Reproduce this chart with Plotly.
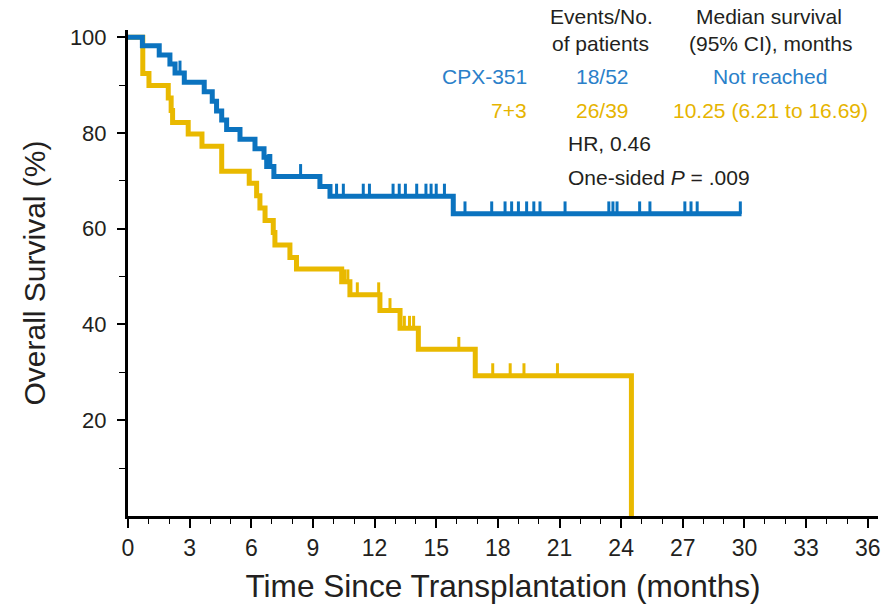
import plotly.graph_objects as go

# Kaplan-Meier step data: time of each step (months) and survival level after it (%)
cpx_times = [0, 0.70, 1.52, 2.04, 2.29, 2.74, 3.71, 4.10, 4.31, 4.56, 4.80, 5.45,
             6.18, 6.62, 6.75, 7.10, 9.34, 9.83, 15.83, 29.86]
cpx_surv = [100, 98.2, 96.3, 94.4, 92.5, 90.6, 88.6, 86.6, 84.6, 82.7, 80.7, 78.7,
            76.7, 74.9, 73.0, 70.9, 68.8, 66.8, 63.1, 63.1]
cpx_censor = [2.53, 6.85, 6.95, 8.40, 10.15, 10.48, 11.45, 11.75, 12.90, 13.20, 13.50,
              14.05, 14.50, 14.75, 15.00, 15.40, 16.40, 17.70, 18.35, 18.67, 19.00,
              19.40, 19.75, 20.05, 21.27, 23.40, 23.60, 23.80, 24.90, 25.40, 27.10,
              27.40, 27.70, 29.80]

std_times = [0, 0.72, 1.02, 1.96, 2.10, 2.17, 2.93, 3.60, 4.56, 5.90, 6.26, 6.42,
             6.67, 7.07, 7.15, 7.88, 8.20, 10.40, 10.80, 12.26, 13.24, 14.13, 16.90, 24.50]
std_surv = [100, 92.4, 89.9, 87.3, 84.7, 82.2, 79.8, 77.2, 72.0, 69.5, 66.9, 64.3,
            61.7, 59.2, 56.6, 54.0, 51.6, 48.9, 46.2, 42.9, 39.2, 34.8, 29.3, 0]
std_censor = [10.55, 10.70, 11.16, 12.20, 12.75, 13.45, 13.70, 13.90, 16.10, 17.75,
              18.60, 19.27, 20.90]

x_ticks = list(range(0, 37, 3))
x_ticklabels = [str(v) for v in x_ticks]
y_ticks = [20, 40, 60, 80, 100]
y_ticklabels = [str(v) for v in y_ticks]

BLUE = "#0b73bf"
GOLD = "#e9b900"
BLUE_TXT = "#2a80c9"
GOLD_TXT = "#e6b400"
INK = "#231f20"
SANS = "Liberation Sans, Arial, Helvetica, sans-serif"

TICK_H = 2.6  # censor tick height in survival %


def level_at(times, surv, t):
    """Survival level of a right-continuous step curve at time t."""
    lvl = surv[0]
    for ti, si in zip(times, surv):
        if ti <= t:
            lvl = si
        else:
            break
    return lvl


def censor_segments(times, surv, cens):
    xs, ys = [], []
    for c in cens:
        lvl = level_at(times, surv, c)
        xs += [c, c, None]
        ys += [lvl, lvl + TICK_H, None]
    return xs, ys


fig = go.Figure()

for times, surv, cens, col, name in [
    (std_times, std_surv, std_censor, GOLD, "7+3"),
    (cpx_times, cpx_surv, cpx_censor, BLUE, "CPX-351"),
]:
    fig.add_trace(go.Scatter(x=times, y=surv, mode="lines", line=dict(color=col, width=5, shape="hv"),
                             name=name, showlegend=False, cliponaxis=False))
    cx, cy = censor_segments(times, surv, cens)
    fig.add_trace(go.Scatter(x=cx, y=cy, mode="lines", line=dict(color=col, width=3),
                             showlegend=False, cliponaxis=False))

L, R, T, B = 128, 14, 30, 94
W, H = 892, 610
PW, PH = W - L - R, H - T - B


def px(xp):
    return (xp - L) / PW


def py(yp):
    return (H - B - yp) / PH


def note(text, xp, yp, color=INK, anchor="center"):
    fig.add_annotation(text=text, x=px(xp), y=py(yp), xref="paper", yref="paper",
                       xanchor=anchor, yanchor="middle", showarrow=False,
                       font=dict(family=SANS, size=21, color=color))


note("Events/No.", 601, 17)
note("of patients", 600, 43)
note("Median survival", 769, 17)
note("(95% CI), months", 770, 43)
note("CPX-351", 529, 76, BLUE_TXT, "right")
note("18/52", 602, 76, BLUE_TXT)
note("Not reached", 770, 76, BLUE_TXT)
note("7+3", 529, 110, GOLD_TXT, "right")
note("26/39", 602, 110, GOLD_TXT)
note("10.25 (6.21 to 16.69)", 770, 110, GOLD_TXT)
note("HR, 0.46", 566, 143, INK, "left")
note("One-sided <i>P</i> = .009", 566, 177, INK, "left")

fig.update_layout(
    width=W, height=H,
    margin=dict(l=L, r=R, t=T, b=B, pad=0),
    paper_bgcolor="white", plot_bgcolor="white",
    xaxis=dict(
        range=[0, 36.5], showgrid=False, zeroline=False,
        showline=True, linecolor="black", linewidth=3,
        tickmode="array", tickvals=x_ticks, ticktext=x_ticklabels,
        ticks="outside", ticklen=9, tickwidth=1.5, tickcolor="black",
        minor=dict(dtick=1, tick0=0, ticks="outside", ticklen=5, tickwidth=1.2, tickcolor="black"),
        tickfont=dict(family=SANS, size=23, color=INK),
        title=dict(text="Time Since Transplantation (months)", font=dict(family=SANS, size=31.6, color=INK),
                   standoff=16),
    ),
    yaxis=dict(
        range=[0, 101.5], showgrid=False, zeroline=False,
        showline=True, linecolor="black", linewidth=3,
        tickmode="array", tickvals=y_ticks, ticktext=y_ticklabels,
        ticks="outside", ticklen=8, tickwidth=1.5, tickcolor="black",
        minor=dict(tickvals=[10, 30, 50, 70, 90], ticks="outside", ticklen=6, tickwidth=1.2, tickcolor="black"),
        tickfont=dict(family=SANS, size=22, color=INK),
        ticklabelstandoff=6,
        title=dict(text="Overall Survival (%)", font=dict(family=SANS, size=30, color=INK), standoff=16),
    ),
)

fig.write_html("out.html", config={"displayModeBar": False})
